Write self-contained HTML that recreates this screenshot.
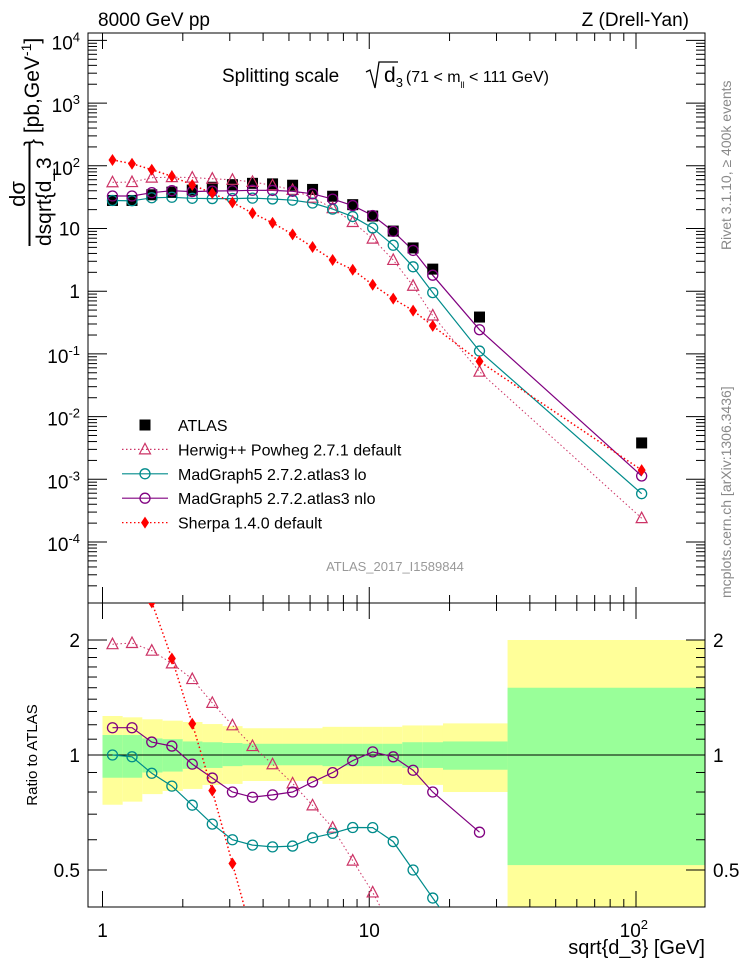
<!DOCTYPE html>
<html><head><meta charset="utf-8"><style>
html,body{margin:0;padding:0;background:#fff;overflow:hidden;}
svg{display:block;font-family:"Liberation Sans",sans-serif;}
</style></head><body>
<svg id="chart" width="746" height="972" viewBox="0 0 746 972" xmlns="http://www.w3.org/2000/svg">
<defs>
<clipPath id="mainClip"><rect x="88" y="33" width="617" height="570"/></clipPath>
<clipPath id="ratioClip"><rect x="88" y="603" width="617" height="304"/></clipPath>
</defs>
<g id="bands" clip-path="url(#ratioClip)"></g>
<g id="frames"></g>
<g id="ticks"></g>
<g id="series-main" clip-path="url(#mainClip)"></g>
<g id="series-ratio" clip-path="url(#ratioClip)"></g>
<g id="labels"></g>
<g id="legend"></g>
</svg>
<script>
const xBins = [1.09,1.29,1.53,1.82,2.17,2.58,3.07,3.65,4.34,5.16,6.13,7.29,8.67,10.3,12.3,14.6,17.3,25.9,105];
const binEdges = [1.0,1.19,1.41,1.68,2.0,2.37,2.82,3.35,3.98,4.73,5.62,6.68,7.94,9.44,11.2,13.3,15.8,18.9,33,190];
const atlas = [28,28,34.5,38,41,45.5,50,52.5,51.5,49,42,32.7,24,15.8,9.1,4.9,2.25,0.387,0.0038];
const herwig = [54.6,55,64.7,66,64.8,62.3,59.8,55.4,48.7,41.3,31,21.1,12.7,6.9,3.15,1.22,0.41,0.052,0.00024];
const mgLo = [28,27.7,30.9,31.5,30.3,30,30,30.5,29.6,28.3,25.5,20.4,15.5,10.2,5.4,2.45,0.95,0.111,0.00059];
const mgNlo = [33,33,37.3,40.1,38.8,39.6,40,40.7,40.5,39.2,35.7,29.4,23.2,16.1,9.0,4.47,1.8,0.243,0.00113];
const sherpa = [124,108,86.6,68,49.5,36.7,26,17.6,12.3,8.05,5.06,3.15,2.2,1.27,0.76,0.49,0.28,0.076,0.0014];
const yellowUp = [1.265,1.255,1.24,1.23,1.22,1.205,1.19,1.175,1.175,1.175,1.175,1.185,1.185,1.185,1.185,1.195,1.195,1.21,2.0];
const yellowDn = [0.741,0.755,0.79,0.805,0.815,0.835,0.84,0.855,0.855,0.855,0.855,0.84,0.84,0.84,0.84,0.835,0.835,0.8,0.3];
const greenUp = [1.128,1.128,1.105,1.1,1.085,1.08,1.075,1.07,1.07,1.07,1.07,1.07,1.07,1.07,1.07,1.08,1.08,1.085,1.5];
const greenDn = [0.872,0.872,0.9,0.905,0.92,0.925,0.935,0.94,0.94,0.94,0.94,0.935,0.935,0.935,0.935,0.925,0.925,0.915,0.515];
const mainTickLabels = ["10^-4","10^-3","10^-2","10^-1","1","10","10^2","10^3","10^4"];
const ratioTickLabels = ["0.5","1","2"];

const NS="http://www.w3.org/2000/svg";
const L=88,R=705,T=33,MB=603,RB=907;
function xs(v){return 102.5+Math.log10(v)*266.75;}
function ym(v){return 291.2-Math.log10(v)*62.7;}
function yr(v){return 755-Math.log10(v)*382;}
function mk(tag,attrs,parent){const e=document.createElementNS(NS,tag);for(const k in attrs)e.setAttribute(k,attrs[k]);parent.appendChild(e);return e;}
const $=id=>document.getElementById(id);

const gb=$('bands');
for(let i=0;i<xBins.length;i++){
  const x0=xs(binEdges[i]),x1=xs(binEdges[i+1]);
  const yb=mk('rect',{x:x0,y:yr(yellowUp[i]),width:x1-x0,height:yr(yellowDn[i])-yr(yellowUp[i]),fill:'#ffff99'},gb);
  
  
  const gr=mk('rect',{x:x0,y:yr(greenUp[i]),width:x1-x0,height:yr(greenDn[i])-yr(greenUp[i]),fill:'#99ff99'},gb);
  
  
}
const gf=$('frames');
const f1=mk('rect',{x:L,y:T,width:R-L,height:MB-T,fill:'none',stroke:'#000','stroke-width':1},gf);


const f2=mk('rect',{x:L,y:MB,width:R-L,height:RB-MB,fill:'none',stroke:'#000','stroke-width':1},gf);


const one=mk('line',{x1:L,x2:R,y1:yr(1),y2:yr(1),stroke:'#000','stroke-width':1},gf);



const gt=$('ticks');
function tl(x1,y1,x2,y2){mk('line',{x1,y1,x2,y2,stroke:'#000','stroke-width':1},gt);}
for(let d=0;d<3;d++){for(let m=1;m<10;m++){const v=m*Math.pow(10,d);const x=xs(v);if(x<L||x>R)continue;const len=m===1?16:8;
  tl(x,MB,x,MB-len);tl(x,T,x,T+len);tl(x,MB,x,MB+len);tl(x,RB,x,RB-len);}}
for(let d=-5;d<5;d++){for(let m=1;m<10;m++){const v=m*Math.pow(10,d);const y=ym(v);if(y<T||y>MB)continue;const len=m===1?19:9;
  tl(L,y,L+len,y);tl(R,y,R-len,y);}}
[0.4,0.5,0.6,0.7,0.8,0.9,1,1.1,1.2,1.3,1.4,1.5,1.6,1.7,1.8,1.9,2].forEach(v=>{const y=yr(v);const len=(v===0.5||v===1||v===2)?19:9;tl(L,y,L+len,y);tl(R,y,R-len,y);});

const gm=$('series-main');
function poly(g,vals,yfun,color,dash,w,name){
  const pts=vals.map((v,i)=>xs(xBins[i]).toFixed(1)+','+yfun(v).toFixed(1)).join(' ');
  const p=mk('polyline',{points:pts,fill:'none',stroke:color,'stroke-width':w},g);
  if(dash)p.setAttribute('stroke-dasharray',dash);
  
  
}
function marker(g,type,cx,cy,color,name){
  let e;
  if(type==='sq')e=mk('rect',{x:cx-5.5,y:cy-5.5,width:11,height:11,fill:'#000'},g);
  else if(type==='tri')e=mk('polygon',{points:`${cx},${cy-6} ${cx-5.5},${cy+4.5} ${cx+5.5},${cy+4.5}`,fill:'none',stroke:color,'stroke-width':1.2},g);
  else if(type==='circ')e=mk('circle',{cx,cy,r:5,fill:'none',stroke:color,'stroke-width':1.3},g);
  else e=mk('polygon',{points:`${cx},${cy-6} ${cx-4},${cy} ${cx},${cy+6} ${cx+4},${cy}`,fill:color},g);
  
  
}
const series=[
 {v:herwig,c:'#cc3366',d:'1.5,2.5',w:1,t:'tri',n:'herwig'},
 {v:mgLo,c:'#008b8b',d:null,w:1.2,t:'circ',n:'madgraph-lo'},
 {v:mgNlo,c:'#800080',d:null,w:1.2,t:'circ',n:'madgraph-nlo'},
 {v:sherpa,c:'#ff0000',d:'1.5,2.5',w:1.5,t:'dia',n:'sherpa'}];
series.forEach(s=>poly(gm,s.v,ym,s.c,s.d,s.w,s.n+'-line'));
atlas.forEach((v,i)=>marker(gm,'sq',xs(xBins[i]),ym(v),'#000','atlas-point'));
series.forEach(s=>s.v.forEach((v,i)=>marker(gm,s.t,xs(xBins[i]),ym(v),s.c,s.n+'-point')));
const gr2=$('series-ratio');
series.forEach(s=>{const r=s.v.map((v,i)=>v/atlas[i]);poly(gr2,r.slice(0,r.length-1),yr,s.c,s.d,s.w,s.n+'-ratio-line');
  r.forEach((v,i)=>marker(gr2,s.t,xs(xBins[i]),yr(v),s.c,s.n+'-ratio-point'));});

const gl=$('labels');
function txt(x,y,s,attrs,name){const e=mk('text',Object.assign({x,y,'font-size':18,fill:'#000'},attrs||{}),gl);e.textContent=s;return e;}
function sup(x,y,base,exp,name,anchor){const e=mk('text',{x,y,'font-size':19,'text-anchor':anchor||'end'},gl);
  const t1=mk('tspan',{},e);t1.textContent=base;const t2=mk('tspan',{dy:-8,'font-size':13},e);t2.textContent=exp;return e;}
mainTickLabels.forEach((lab,i)=>{const v=Math.pow(10,i-4);const y=ym(v)+7;
  if(lab.indexOf('^')>=0){const p=lab.split('^');sup(80,y+2,p[0],p[1],'y-tick-label');}
  else txt(80,y,lab,{'font-size':19,'text-anchor':'end'},'y-tick-label');});
ratioTickLabels.forEach(lab=>{const y=yr(parseFloat(lab))+7;
  txt(80,y,lab,{'font-size':19,'text-anchor':'end'},'ratio-tick-label-left');
  txt(713,y,lab,{'font-size':19},'ratio-tick-label-right');});
txt(xs(1),937,'1',{'font-size':19,'text-anchor':'middle'},'x-tick-label');
txt(xs(10),937,'10',{'font-size':19,'text-anchor':'middle'},'x-tick-label');
sup(xs(100)+12,937,'10','2','x-tick-label');
txt(705,954,'sqrt{d_3} [GeV]',{'font-size':20,'text-anchor':'end'},'x-axis-title');
txt(98,26,'8000 GeV pp',{'font-size':19},'energy-label');
txt(689,26,'Z (Drell-Yan)',{'font-size':19,'text-anchor':'end'},'process-label');
// title
const tt=mk('text',{x:222,y:82,'font-size':19},gl);
tt.innerHTML='Splitting scale<tspan x="384" font-size="21">d</tspan><tspan font-size="13" dy="5">3</tspan><tspan font-size="16" dy="-5" dx="3">(71 &lt; m</tspan><tspan font-size="9" dy="6">ll</tspan><tspan font-size="16" dy="-6"> &lt; 111 GeV)</tspan>';
const sq=mk('polyline',{points:'366,72 370,70 375,88 379,62 398,62',fill:'none',stroke:'#000','stroke-width':1.3},gl);


txt(395,571,'ATLAS_2017_I1589844',{'font-size':13,fill:'#999','text-anchor':'middle'},'analysis-id');
txt(0,0,'Rivet 3.1.10, \u2265 400k events',{'font-size':14,fill:'#888',transform:'translate(731,250) rotate(-90)'},'rivet-label');
txt(0,0,'mcplots.cern.ch [arXiv:1306.3436]',{'font-size':14,fill:'#888',transform:'translate(731,598) rotate(-90)'},'mcplots-label');
txt(0,0,'Ratio to ATLAS',{'font-size':15,'text-anchor':'middle',transform:'translate(37,755) rotate(-90)'},'ratio-y-axis-title');
// main y title
const yt=mk('g',{},gl);
const a=mk('text',{'font-size':22,'text-anchor':'middle',transform:'translate(25,194) rotate(-90)'},yt);a.textContent='d\u03c3';
mk('line',{x1:29.5,y1:143,x2:29.5,y2:246,stroke:'#000','stroke-width':2},yt);
const b=mk('text',{'font-size':21,transform:'translate(51,246) rotate(-90)'},yt);b.textContent='dsqrt{d_3';
const c=mk('text',{'font-size':21,transform:'translate(39,146) rotate(-90)'},yt);
c.innerHTML='} [pb,GeV<tspan font-size="14" dy="-8">-1</tspan><tspan dy="8">]</tspan>';

const lg=$('legend');
const leg=[{n:'ATLAS',t:'sq',c:'#000',d:null,line:false},{n:'Herwig++ Powheg 2.7.1 default',t:'tri',c:'#cc3366',d:'1.5,2.5',line:true},
{n:'MadGraph5 2.7.2.atlas3 lo',t:'circ',c:'#008b8b',d:null,line:true},{n:'MadGraph5 2.7.2.atlas3 nlo',t:'circ',c:'#800080',d:null,line:true},
{n:'Sherpa 1.4.0 default',t:'dia',c:'#ff0000',d:'1.5,2.5',line:true}];
leg.forEach((e,i)=>{const y=425+i*24.4;const g=mk('g',{},lg);
  if(e.line){const l=mk('line',{x1:122,x2:168,y1:y,y2:y,stroke:e.c,'stroke-width':1.2},g);if(e.d)l.setAttribute('stroke-dasharray',e.d);}
  marker(g,e.t,145,y,e.c,'legend-marker');
  const t=mk('text',{x:178,y:y+6,'font-size':16},g);t.textContent=e.n;});
</script>
</body></html>
